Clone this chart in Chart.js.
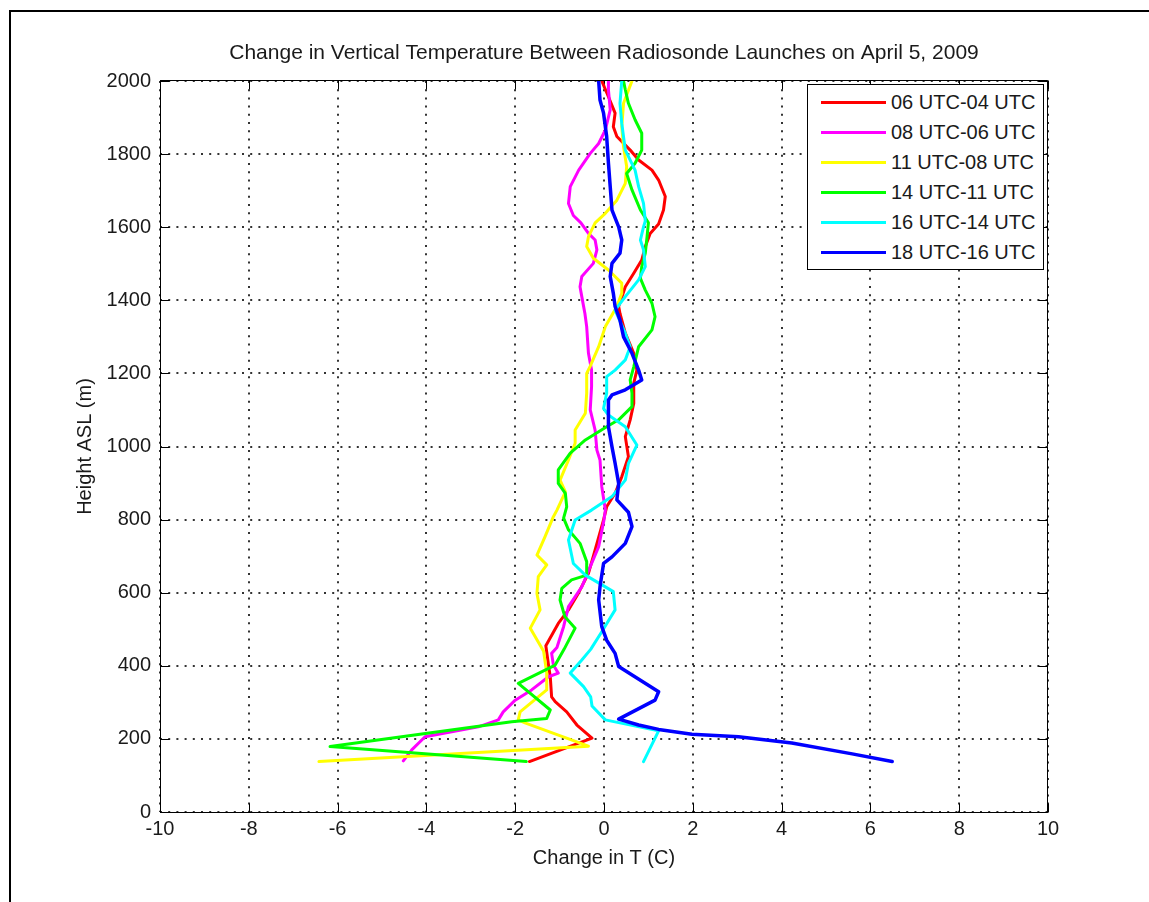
<!DOCTYPE html>
<html>
<head>
<meta charset="utf-8">
<title>Radiosonde temperature change profiles</title>
<script src="https://cdn.jsdelivr.net/npm/chart.js@4.4.1/dist/chart.umd.min.js"></script>
<style>
  html, body { margin: 0; padding: 0; background: #fff; }
  #wrap { position: relative; width: 1149px; height: 902px; overflow: hidden; background: #fff; }
  #plot { position: absolute; left: 0; top: 0; display: block; }
  #frame { position: absolute; left: 9px; top: 10px; width: 1200px; height: 1000px;
           border: 2px solid #000; pointer-events: none; }
  #legend { position: absolute; left: 807px; top: 84px; width: 237px; height: 186px;
            box-sizing: border-box; border: 1px solid #000; background: #fff;
            font: 20px 'Liberation Sans', Arial, sans-serif; color: #1a1a1a; padding-top: 2px; }
  #legend .item { height: 30px; display: flex; align-items: center; white-space: nowrap; }
  #legend .swatch { width: 65px; height: 3px; margin-left: 13px; margin-right: 5px; }
</style>
</head>
<body>
<div id="wrap">
  <canvas id="plot" width="1149" height="902"></canvas>
  <div id="legend"></div>
  <div id="frame"></div>
</div>
<script>
// Axis tick values
const tempTicks = [-10, -8, -6, -4, -2, 0, 2, 4, 6, 8, 10];
const heightTicks = [0, 200, 400, 600, 800, 1000, 1200, 1400, 1600, 1800, 2000];

// Series names and line colours
const seriesLabels = ['06 UTC-04 UTC', '08 UTC-06 UTC', '11 UTC-08 UTC',
                      '14 UTC-11 UTC', '16 UTC-14 UTC', '18 UTC-16 UTC'];
const seriesColors = ['#ff0000', '#ff00ff', '#ffff00', '#00ff00', '#00ffff', '#0000ff'];

// Temperature change (C) and height ASL (m) for each launch pair
const dT0604 = [-1.68, -0.27, -0.61, -0.84, -1.10, -1.18, -1.21, -1.25, -1.31, -1.03,
                -0.80, -0.58, -0.35, -0.20, -0.01, 0.06, 0.25, 0.40, 0.55, 0.48,
                0.59, 0.67, 0.67, 0.74, 0.67, 0.48, 0.36, 0.33, 0.48, 0.67,
                0.85, 0.93, 1.04, 1.23, 1.34, 1.38, 1.23, 1.08, 0.78, 0.59,
                0.29, 0.21, 0.25, 0.10, -0.05];
const h0604 = [138, 202, 238, 274, 302, 315, 370, 402, 455, 516,
               553, 598, 653, 717, 799, 835, 872, 917, 972, 1027,
               1073, 1118, 1173, 1209, 1255, 1310, 1364, 1383, 1437, 1474,
               1510, 1547, 1583, 1609, 1647, 1684, 1729, 1756, 1784, 1811,
               1848, 1875, 1912, 1957, 2000];

const dT0806 = [-4.52, -4.33, -4.03, -2.83, -2.38, -2.27, -2.00, -1.63, -1.25, -1.03,
                -1.14, -1.18, -1.06, -0.91, -0.80, -0.50, -0.31, -0.12, 0.00, 0.03,
                -0.05, -0.09, -0.16, -0.20, -0.31, -0.28, -0.28, -0.35, -0.39, -0.43,
                -0.50, -0.54, -0.50, -0.24, -0.16, -0.20, -0.35, -0.52, -0.69, -0.80,
                -0.76, -0.57, -0.31, -0.12, 0.03, 0.14, 0.10, 0.10];
const h0806 = [140, 170, 206, 233, 252, 274, 306, 334, 370, 380,
               402, 434, 450, 507, 562, 616, 671, 726, 799, 826,
               890, 963, 990, 1045, 1100, 1164, 1209, 1255, 1328, 1364,
               1410, 1437, 1465, 1501, 1538, 1565, 1583, 1612, 1632, 1665,
               1711, 1756, 1802, 1829, 1866, 1921, 1976, 2000];

const dT1108 = [-6.42, -0.35, -1.78, -1.93, -1.89, -1.29, -1.29, -1.36, -1.66, -1.44,
                -1.51, -1.48, -1.29, -1.51, -1.33, -1.14, -1.06, -0.87, -0.99, -0.80,
                -0.65, -0.65, -0.42, -0.39, -0.39, -0.31, -0.12, 0.03, 0.29, 0.40,
                0.40, 0.10, -0.24, -0.39, -0.35, -0.20, 0.03, 0.29, 0.48, 0.51,
                0.44, 0.40, 0.44, 0.63];
const h1108 = [138, 180, 244, 252, 274, 334, 380, 440, 503, 553,
               598, 644, 676, 703, 753, 808, 826, 876, 908, 963,
               1009, 1045, 1091, 1146, 1200, 1220, 1273, 1328, 1383, 1419,
               1447, 1483, 1515, 1547, 1574, 1612, 1638, 1674, 1720, 1766,
               1820, 1875, 1939, 2000];

const dT1411 = [-1.75, -6.17, -2.08, -1.29, -1.21, -1.93, -1.10, -0.90, -0.65, -0.88,
                -0.99, -0.95, -0.73, -0.39, -0.39, -0.54, -0.80, -0.91, -0.84, -0.87,
                -1.03, -1.03, -0.76, -0.42, 0.06, 0.33, 0.63, 0.63, 0.59, 0.67,
                0.78, 1.08, 1.15, 1.08, 0.93, 0.82, 0.85, 0.93, 0.97, 1.00,
                0.82, 0.63, 0.51, 0.70, 0.85, 0.85, 0.70, 0.55, 0.48, 0.44];
const h1411 = [138, 179, 247, 256, 279, 352, 402, 445, 503, 534,
               580, 612, 635, 648, 685, 735, 772, 804, 835, 872,
               899, 936, 982, 1018, 1054, 1073, 1109, 1146, 1182, 1218,
               1273, 1319, 1355, 1392, 1428, 1460, 1492, 1529, 1574, 1612,
               1647, 1702, 1747, 1775, 1811, 1857, 1894, 1939, 1976, 2000];

const dT1614 = [0.89, 1.23, 0.03, -0.27, -0.30, -0.46, -0.76, -0.50, -0.30, -0.05,
                0.25, 0.21, 0.03, -0.42, -0.69, -0.80, -0.65, -0.28, 0.18, 0.48,
                0.55, 0.74, 0.48, 0.10, -0.01, 0.06, 0.06, 0.25, 0.48, 0.59,
                0.48, 0.25, 0.48, 0.78, 0.93, 0.89, 0.82, 0.89, 0.93, 0.89,
                0.78, 0.70, 0.48, 0.40, 0.36, 0.40];
const h1614 = [138, 222, 252, 290, 315, 343, 380, 416, 445, 493,
               553, 603, 616, 648, 680, 744, 799, 826, 863, 908,
               954, 1004, 1054, 1086, 1104, 1146, 1191, 1209, 1237, 1273,
               1310, 1373, 1410, 1456, 1492, 1538, 1565, 1601, 1617, 1665,
               1711, 1756, 1811, 1884, 1939, 2000];

const dT1816 = [6.49, 5.59, 4.23, 3.03, 1.98, 1.23, 0.78, 0.33, 1.15, 1.23,
                0.33, 0.25, 0.06, -0.05, -0.12, -0.09, -0.01, 0.18, 0.48, 0.63,
                0.55, 0.29, 0.33, 0.25, 0.18, 0.10, 0.10, 0.18, 0.48, 0.85,
                0.78, 0.63, 0.44, 0.36, 0.25, 0.21, 0.14, 0.18, 0.36, 0.40,
                0.33, 0.18, 0.14, 0.10, 0.06, -0.01, -0.09, -0.12];
const h1816 = [138, 159, 189, 206, 213, 226, 238, 254, 306, 329,
               398, 434, 470, 507, 580, 616, 680, 698, 735, 781,
               820, 854, 899, 954, 999, 1054, 1127, 1141, 1155, 1182,
               1209, 1255, 1300, 1346, 1383, 1419, 1465, 1501, 1529, 1565,
               1601, 1647, 1711, 1775, 1848, 1912, 1948, 2000];

const profiles = [[dT0604, h0604], [dT0806, h0806], [dT1108, h1108],
                  [dT1411, h1411], [dT1614, h1614], [dT1816, h1816]];

const datasets = seriesLabels.map((label, i) => ({
  label: label,
  data: profiles[i][0].map((t, k) => ({ x: t, y: profiles[i][1][k] })),
  borderColor: seriesColors[i],
  backgroundColor: seriesColors[i],
  borderWidth: i === 5 ? 3.5 : 3,
  borderJoinStyle: 'round',
  borderCapStyle: 'round',
  pointRadius: 0,
  showLine: true,
  fill: false,
  tension: 0,
  order: 5 - i   // later launch pairs drawn on top
}));

// Axes box with inward tick marks on all four sides
const axesBox = {
  id: 'axesBox',
  beforeDatasetsDraw(chart) {
    const { ctx, chartArea: a, scales } = chart;
    const L = a.left + 0.5, R = a.right - 0.5, T = a.top - 0.5, B = a.bottom + 0.5;
    const len = 9;
    ctx.save();
    ctx.strokeStyle = '#000';
    ctx.lineWidth = 1;
    ctx.beginPath();
    ctx.rect(L, T, R - L, B - T);
    tempTicks.forEach(v => {
      const px = Math.round(scales.x.getPixelForValue(v)) + 0.5;
      ctx.moveTo(px, B); ctx.lineTo(px, B - len);
      ctx.moveTo(px, T); ctx.lineTo(px, T + len);
    });
    heightTicks.forEach(v => {
      const py = Math.round(scales.y.getPixelForValue(v)) + 0.5;
      ctx.moveTo(L, py); ctx.lineTo(L + len, py);
      ctx.moveTo(R, py); ctx.lineTo(R - len, py);
    });
    ctx.stroke();
    ctx.restore();
  }
};

Chart.defaults.font.family = "'Liberation Sans', Arial, sans-serif";
Chart.defaults.font.size = 20;
Chart.defaults.color = '#1a1a1a';

const chart = new Chart(document.getElementById('plot'), {
  type: 'scatter',
  data: { datasets: datasets },
  options: {
    responsive: false,
    animation: false,
    events: [],
    layout: { padding: { left: 0, right: 101, top: 0, bottom: 0 } },
    plugins: {
      legend: { display: false },
      tooltip: { enabled: false },
      title: {
        display: true,
        text: 'Change in Vertical Temperature Between Radiosonde Launches on April 5, 2009',
        fullSize: false,
        color: '#1a1a1a',
        font: { size: 21, weight: 'normal', lineHeight: 1.2 },
        padding: { top: 41, bottom: 14.8 }
      }
    },
    scales: {
      x: {
        type: 'linear',
        position: 'bottom',
        min: -10,
        max: 10,
        afterBuildTicks: s => { s.ticks = tempTicks.map(v => ({ value: v })); },
        afterFit: s => { s.height = 90; },
        ticks: { padding: 5, color: '#1a1a1a', maxRotation: 0, autoSkip: false,
                 callback: v => String(v) },
        grid: { color: '#333', lineWidth: 2, drawTicks: false },
        border: { display: false, dash: [2, 6.2] },
        title: { display: true, text: 'Change in T (C)', color: '#1a1a1a',
                 font: { size: 20 }, padding: { top: 0, bottom: 32 } }
      },
      y: {
        type: 'linear',
        position: 'left',
        min: 0,
        max: 2000,
        afterBuildTicks: s => { s.ticks = heightTicks.map(v => ({ value: v })); },
        afterFit: s => { s.width = 160; },
        ticks: { padding: 9, color: '#1a1a1a', autoSkip: false,
                 callback: v => String(v) },
        grid: { color: '#333', lineWidth: 2, drawTicks: false },
        border: { display: false, dash: [2, 6.2] },
        title: { display: true, text: 'Height ASL (m)', color: '#1a1a1a',
                 font: { size: 20 }, padding: { top: 73, bottom: 0 } }
      }
    }
  },
  plugins: [axesBox]
});

// Legend box built from the chart's datasets
const legendEl = document.getElementById('legend');
chart.data.datasets.forEach(ds => {
  const row = document.createElement('div');
  row.className = 'item';
  const sw = document.createElement('span');
  sw.className = 'swatch';
  sw.style.background = ds.borderColor;
  const txt = document.createElement('span');
  txt.textContent = ds.label;
  row.appendChild(sw);
  row.appendChild(txt);
  legendEl.appendChild(row);
});
</script>
</body>
</html>
